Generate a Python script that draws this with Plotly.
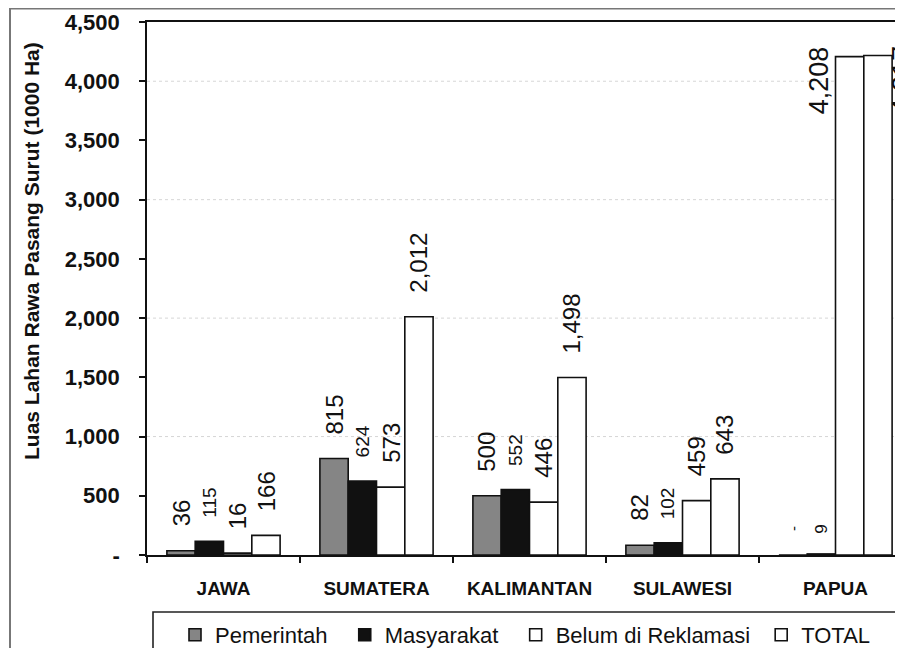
import plotly.graph_objects as go

categories = ["JAWA", "SUMATERA", "KALIMANTAN", "SULAWESI", "PAPUA"]
pemerintah = [36, 815, 500, 82, 0]
masyarakat = [115, 624, 552, 102, 9]
belum = [16, 573, 446, 459, 4208]
total = [166, 2012, 1498, 643, 4217]
series_names = ["Pemerintah", "Masyarakat", "Belum di Reklamasi", "TOTAL"]
y_tickvals = [0, 500, 1000, 1500, 2000, 2500, 3000, 3500, 4000, 4500]
y_ticktext = ["-", "500", "1,000", "1,500", "2,000", "2,500", "3,000", "3,500", "4,000", "4,500"]
grid_vals = [1000, 2000, 3000, 4000]
y_title = "Luas Lahan Rawa Pasang Surut (1000 Ha)"

# page has an 8px body margin: figure origin is at window (8, 8)
OFF = 8
WW, WH = 903, 648
W, H = WW - OFF, WH - OFF
L, T, B = 147, 22, 555          # plot area in window pixels
PW, PH = WW - L, B - T


def px(xwin):
    return (xwin - L) / PW


def py(ywin):
    return (B - ywin) / PH


series = [pemerintah, masyarakat, belum, total]
colors = ["#858585", "#111111", "#ffffff", "#ffffff"]
NBSP = "\u00a0"
legend_pad = [2, 2, 1, 0]
FONT = "Liberation Sans, Arial, sans-serif"

fig = go.Figure()
for name, vals, col, pad in zip(series_names, series, colors, legend_pad):
    fig.add_trace(go.Bar(
        name=name + NBSP * pad, x=categories, y=vals,
        marker=dict(color=col, line=dict(color="#111111", width=1.6)),
    ))

bargap = 0.26
bw = (1 - bargap) / 4
offsets = [(-1.5 + i) * bw for i in range(4)]

annotations = []
for i, vals in enumerate(series):
    for j, v in enumerate(vals):
        txt = f"{v:,}" if v else "-"
        size = 19 if i == 1 else 24
        ann = dict(x=j + offsets[i], y=v, xref="x", yref="y", text=txt,
                   textangle=-90, showarrow=False,
                   font=dict(family=FONT, size=size, color="#111"),
                   xanchor="center", yanchor="bottom", yshift=22)
        if v == 0:
            ann.update(yanchor="middle", yshift=26)
            ann["font"]["size"] = 15
        if categories[j] == "PAPUA" and i == 1:
            ann["font"]["size"] = 17
            ann["yshift"] = 18
        if categories[j] == "PAPUA" and i >= 2:
            ann.update(yanchor="top", yshift=12, xshift=(-31 if i == 2 else 24))
            ann["font"]["size"] = 27
        annotations.append(ann)

annotations.append(dict(x=px(31), y=py(251), xref="paper", yref="paper", text=y_title,
                        textangle=-90, showarrow=False, xanchor="center", yanchor="middle",
                        font=dict(family=FONT, size=21, color="#111", weight="bold")))

shapes = []
for g in grid_vals:
    shapes.append(dict(type="line", xref="paper", yref="y", x0=0, x1=1, y0=g, y1=g,
                       line=dict(color="#d6d6d6", width=1, dash="dot"), layer="below"))
# outer chart border
shapes.append(dict(type="rect", xref="paper", yref="paper",
                   x0=px(10), x1=px(WW + 20), y0=py(8.5), y1=py(WH + 20),
                   line=dict(color="#777", width=2)))
# legend box
shapes.append(dict(type="rect", xref="paper", yref="paper",
                   x0=px(153), x1=px(WW + 20), y0=py(612), y1=py(WH + 20),
                   line=dict(color="#222", width=1.6)))

fig.update_layout(
    width=W, height=H,
    margin=dict(l=L - OFF, r=0, t=T - OFF, b=WH - B, autoexpand=False),
    paper_bgcolor="white", plot_bgcolor="white",
    barmode="group", bargap=bargap, bargroupgap=0,
    font=dict(family=FONT, color="#111"),
    showlegend=True,
    legend=dict(orientation="h", x=px(175), y=py(614), xanchor="left", yanchor="top",
                font=dict(family=FONT, size=22, color="#111"),
                bgcolor="rgba(0,0,0,0)", borderwidth=0),
    annotations=annotations,
    shapes=shapes,
)
fig.update_xaxes(
    range=[-0.5, -0.5 + PW / 153.0],
    showline=True, mirror=True, linecolor="#111", linewidth=1.6,
    ticks="outside", tickson="boundaries", ticklen=6, tickcolor="#111", tickwidth=1.5,
    tickfont=dict(family=FONT, size=19, color="#111", weight="bold"),
    ticklabelstandoff=15, showgrid=False,
)
fig.update_yaxes(
    range=[0, 4500],
    tickvals=y_tickvals, ticktext=y_ticktext,
    showline=True, mirror=True, linecolor="#111", linewidth=1.6,
    ticks="outside", ticklen=6, tickcolor="#111", tickwidth=1.5,
    tickfont=dict(family=FONT, size=22, color="#111", weight="bold"),
    ticklabelstandoff=15, showgrid=False, zeroline=False,
)

fig.write_html("out.html")
